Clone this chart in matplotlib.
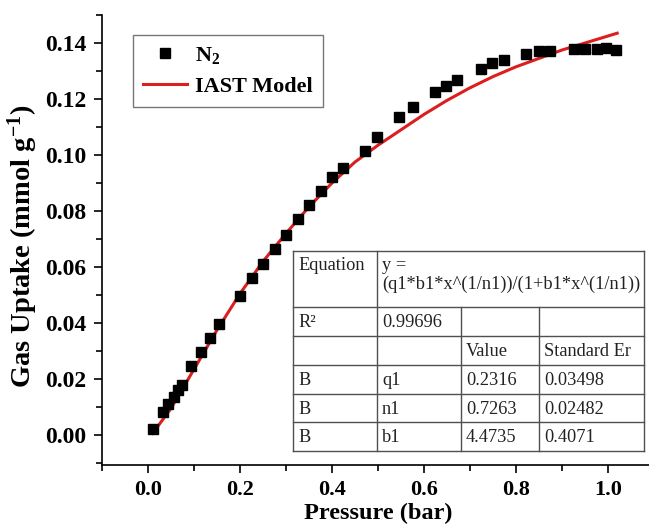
import matplotlib
matplotlib.use("Agg")
import matplotlib.pyplot as plt
from matplotlib.ticker import MultipleLocator, FormatStrFormatter
from matplotlib.lines import Line2D

# ---------------- data ----------------
n2_pressure = [0.011, 0.033, 0.044, 0.056, 0.065, 0.074, 0.094, 0.115, 0.134, 0.155,
               0.199, 0.225, 0.250, 0.275, 0.300, 0.325, 0.351, 0.376, 0.401, 0.424,
               0.472, 0.498, 0.546, 0.577, 0.623, 0.647, 0.671, 0.723, 0.748, 0.773,
               0.822, 0.849, 0.874, 0.925, 0.951, 0.975, 0.996, 1.017]
n2_uptake = [0.0021, 0.0082, 0.0110, 0.0135, 0.0160, 0.0180, 0.0245, 0.0295, 0.0345, 0.0395,
             0.0495, 0.0560, 0.0610, 0.0665, 0.0715, 0.0770, 0.0820, 0.0870, 0.0920, 0.0955,
             0.1015, 0.1065, 0.1135, 0.1170, 0.1225, 0.1245, 0.1268, 0.1308, 0.1330, 0.1338,
             0.1362, 0.1372, 0.1372, 0.1378, 0.1380, 0.1380, 0.1382, 0.1375]

model_pressure = [0.010, 0.05, 0.10, 0.15, 0.20, 0.25, 0.30, 0.35, 0.40, 0.45, 0.50,
                  0.55, 0.60, 0.65, 0.70, 0.75, 0.80, 0.85, 0.90, 0.95, 1.00, 1.020]
model_uptake = [0.0006, 0.0095, 0.0235, 0.0375, 0.0505, 0.0620, 0.0720, 0.0815, 0.0900,
                0.0975, 0.1035, 0.1090, 0.1145, 0.1195, 0.1240, 0.1280, 0.1315, 0.1345,
                0.1375, 0.1400, 0.1425, 0.1435]

x_ticks = [0.0, 0.2, 0.4, 0.6, 0.8, 1.0]
y_ticks = [0.00, 0.02, 0.04, 0.06, 0.08, 0.10, 0.12, 0.14]

table_rows = [
    ["Equation", "y =\n(q1*b1*x^(1/n1))/(1+b1*x^(1/n1))"],
    ["R²", "0.99696", "", ""],
    ["", "", "Value", "Standard Er"],
    ["B", "q1", "0.2316", "0.03498"],
    ["B", "n1", "0.7263", "0.02482"],
    ["B", "b1", "4.4735", "0.4071"],
]

# ---------------- style ----------------
plt.rcParams['font.family'] = ['Liberation Serif', 'DejaVu Serif']
plt.rcParams['mathtext.fontset'] = 'custom'
plt.rcParams['mathtext.rm'] = 'Liberation Serif:bold'
plt.rcParams['mathtext.it'] = 'Liberation Serif:bold'
plt.rcParams['mathtext.bf'] = 'Liberation Serif:bold'

W, H = 649, 526
fig = plt.figure(figsize=(W / 100, H / 100), dpi=100)

def px(x0, y0, x1, y1):
    return [x0 / W, 1 - y1 / H, (x1 - x0) / W, (y1 - y0) / H]

ax = fig.add_axes(px(102, 15, 654, 465))
ax.set_xlim(-0.1, 1.1)
ax.set_ylim(-0.0107, 0.150)

red = '#dc1e1e'
ax.plot(model_pressure, model_uptake, color=red, lw=2.2, label='IAST Model', zorder=2)
ax.plot(n2_pressure, n2_uptake, ls='none', marker='s', ms=6.8, color='black',
        label='N$_2$', zorder=3)

for s in ['top', 'right']:
    ax.spines[s].set_visible(False)
for s in ['left', 'bottom']:
    ax.spines[s].set_linewidth(1.2)
ax.set_xticks(x_ticks)
ax.set_yticks(y_ticks)
ax.xaxis.set_minor_locator(MultipleLocator(0.1))
ax.yaxis.set_minor_locator(MultipleLocator(0.01))
ax.xaxis.set_major_formatter(FormatStrFormatter('%.1f'))
ax.yaxis.set_major_formatter(FormatStrFormatter('%.2f'))
ax.tick_params(which='major', direction='out', length=6, width=1.2, labelsize=16, pad=5)
ax.tick_params(which='minor', direction='out', length=4, width=1.2)
ax.tick_params(axis='y', which='major', labelsize=17)
for lab in ax.get_xticklabels() + ax.get_yticklabels():
    lab.set_fontweight('bold')

ax.set_xlabel('Pressure (bar)', fontsize=17.5, fontweight='bold', labelpad=2)
ax.set_ylabel('Gas Uptake (mmol g$^{-1}$)', fontsize=20.5, fontweight='bold')
ax.yaxis.set_label_coords(-0.113, 0.485)

handles, labels = ax.get_legend_handles_labels()
leg = ax.legend(handles[::-1], labels[::-1], loc='upper left',
                bbox_to_anchor=(133 / W, 1 - 35 / H), bbox_transform=fig.transFigure,
                borderaxespad=0, frameon=True, fancybox=False, edgecolor='#555555',
                prop={'family': 'Liberation Serif', 'weight': 'bold', 'size': 16},
                handlelength=2.0, handletextpad=0.35, labelspacing=0.45,
                borderpad=0.45)
leg.get_frame().set_linewidth(1.0)

# ---------------- table ----------------
tx = [293, 377, 461, 539, 644]
ty = [251, 307, 336, 365, 394, 422, 451]
tax = fig.add_axes(px(tx[0], ty[0], tx[-1], ty[-1]))
tax.set_xlim(tx[0], tx[-1])
tax.set_ylim(ty[-1], ty[0])
tax.axis('off')
lc = '#505050'
lw = 1.0
for y in ty:
    tax.add_line(Line2D([tx[0], tx[-1]], [y, y], color=lc, lw=lw, clip_on=False))
for i, x in enumerate(tx):
    y_start = ty[0] if i in (0, 1, 4) else ty[1]
    tax.add_line(Line2D([x, x], [y_start, ty[-1]], color=lc, lw=lw, clip_on=False))

tfs = 13.2
tax.text(tx[0] + 5, ty[0] + 6, table_rows[0][0], ha='left', va='top', fontsize=tfs,
         color='#222222')
tax.text(tx[1] + 5, ty[0] + 6, table_rows[0][1], ha='left', va='top', fontsize=tfs,
         color='#222222', linespacing=1.15)
for r in range(1, len(table_rows)):
    ymid = (ty[r] + ty[r + 1]) / 2
    for c, txt in enumerate(table_rows[r]):
        tax.text(tx[c] + 5, ymid + 1, txt, ha='left', va='center', fontsize=tfs,
                 color='#222222')

fig.savefig('out.png', dpi=100)
